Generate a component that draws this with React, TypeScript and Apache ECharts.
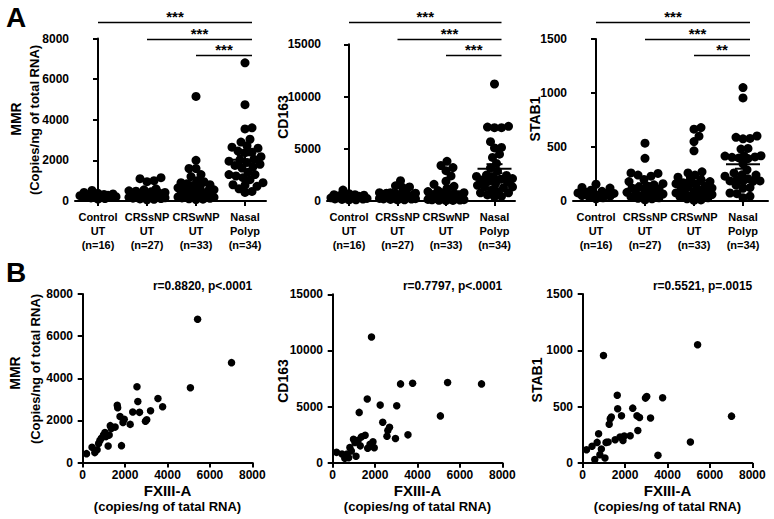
import React, { useEffect, useRef } from "react";
import * as echarts from "echarts";

// ---------------- DATA ----------------
const groupLabels = ["Control\nUT\n(n=16)", "CRSsNP\nUT\n(n=27)", "CRSwNP\nUT\n(n=33)", "Nasal\nPolyp\n(n=34)"];

// Nasal polyp samples (shared by panel A "Nasal Polyp" group and panel B correlations)
const fxiiiA = [180, 440, 570, 680, 750, 810, 880, 980, 1050, 1100, 1200, 1250, 1300, 1350, 1530, 1630, 1650, 1760, 1830, 1900, 1960, 2240, 2360, 2560, 2600, 2680, 2960, 3020, 3200, 3550, 3770, 5080, 5420, 7020];
const mmrNasalPolyp = [420, 720, 470, 600, 900, 1050, 1150, 1300, 1420, 1230, 780, 1300, 1750, 1620, 1680, 2720, 2600, 2180, 800, 1900, 2050, 1810, 2400, 3600, 2900, 2380, 1960, 2030, 2460, 3040, 2650, 3550, 6800, 4740];
const cd163NasalPolyp = [920, 780, 400, 780, 450, 1350, 1050, 2080, 1800, 580, 2000, 4480, 1500, 2300, 2450, 5680, 1280, 1650, 11200, 1870, 1340, 5130, 3600, 2350, 2860, 3150, 2150, 5080, 7020, 2480, 7080, 4170, 7150, 7020];
const stab1NasalPolyp = [118, 148, 30, 183, 260, 74, 124, 954, 44, 183, 186, 345, 393, 408, 207, 602, 481, 230, 419, 200, 240, 242, 487, 419, 289, 404, 576, 590, 399, 68, 579, 186, 1050, 416];

const mmrControl = [90, 120, 150, 170, 190, 210, 230, 250, 260, 280, 300, 320, 350, 380, 420, 520];
const mmrCRSsNP = [1150, 1100, 1000, 950, 600, 550, 500, 480, 450, 420, 400, 380, 350, 330, 300, 280, 260, 240, 220, 200, 180, 160, 140, 120, 100, 80, 60];
const mmrCRSwNP = [5150, 2000, 1600, 1600, 1300, 1200, 1000, 950, 900, 850, 800, 750, 700, 650, 600, 550, 500, 450, 420, 380, 350, 320, 300, 280, 250, 220, 200, 180, 150, 130, 110, 90, 70];

const cd163Control = [1050, 700, 600, 600, 550, 500, 450, 400, 350, 300, 250, 200, 180, 150, 120, 100];
const cd163CRSsNP = [1950, 1450, 1350, 1300, 800, 750, 700, 800, 750, 700, 650, 600, 550, 500, 450, 400, 380, 350, 300, 280, 250, 220, 200, 180, 150, 120, 100];
const cd163CRSwNP = [3800, 3400, 3200, 2900, 2400, 1900, 1600, 1400, 1200, 1000, 900, 800, 700, 650, 600, 550, 500, 450, 400, 350, 300, 280, 250, 220, 200, 180, 150, 130, 110, 90, 70, 50, 40];

const stab1Control = [155, 125, 120, 100, 90, 80, 75, 70, 65, 60, 55, 50, 45, 40, 30, 20];
const stab1CRSsNP = [535, 395, 260, 255, 240, 230, 200, 180, 160, 150, 140, 130, 120, 110, 100, 90, 80, 70, 65, 60, 50, 45, 40, 30, 25, 20, 10];
const stab1CRSwNP = [680, 665, 600, 550, 465, 270, 260, 240, 220, 200, 190, 180, 170, 160, 150, 140, 130, 120, 110, 100, 90, 80, 75, 70, 60, 55, 50, 45, 40, 30, 20, 10, 5];

const ticksMMR = [0, 2000, 4000, 6000, 8000];
const ticksCD163 = [0, 5000, 10000, 15000];
const ticksSTAB1 = [0, 500, 1000, 1500];
const ticksFXIIIA = [0, 2000, 4000, 6000, 8000];

const sigMMR = ["***", "***", "***"];
const sigCD163 = ["***", "***", "***"];
const sigSTAB1 = ["***", "***", "**"];

const rTexts = ["r=0.8820, p<.0001", "r=0.7797, p<.0001", "r=0.5521, p=.0015"];

// ---------------- LAYOUT ----------------
const FONT = '"Liberation Sans", Arial, Helvetica, sans-serif';
const A_LAYOUT = [
  { left: 75, right: 266, top: 38.5, bottom: 201, first: 98, step: 49, nameX: [16, 34], nameY: 119 },
  { left: 327, right: 515, top: 44.3, bottom: 201, first: 349, step: 48.5, nameX: [282.5], nameY: 117 },
  { left: 573, right: 768, top: 39, bottom: 201, first: 596, step: 49, nameX: [535], nameY: 119 },
];
const B_LAYOUT = [
  { left: 79, zero: 82.7, right: 252.3, top: 294, bottom: 462.5, nameX: [15, 35], nameY: 373 },
  { left: 329, zero: 332.7, right: 502.3, top: 294.3, bottom: 462.7, nameX: [282.5], nameY: 381 },
  { left: 579, zero: 582.7, right: 752.3, top: 294, bottom: 463, nameX: [537], nameY: 380 },
];
const BAR_Y = [22.5, 39.5, 55.5];

function swarm(values: number[], ppy: number, d: number, maxOff: number): number[] {
  const order = values.map((_, i) => i).sort((a, b) => values[a] - values[b]);
  const placed: { x: number; y: number }[] = [];
  const offs = new Array(values.length).fill(0);
  const cands: number[] = [0];
  for (let k = 1; k <= maxOff; k++) cands.push(k, -k);
  for (const i of order) {
    const y = values[i] * ppy;
    let best = 0;
    let bestScore = -1;
    for (const c of cands) {
      let minD = Infinity;
      for (const p of placed) {
        const dd = Math.hypot(p.x - c, p.y - y);
        if (dd < minD) minD = dd;
      }
      if (minD >= d) {
        best = c;
        break;
      }
      if (minD > bestScore) {
        bestScore = minD;
        best = c;
      }
    }
    placed.push({ x: best, y });
    offs[i] = best;
  }
  return offs;
}

function meanSem(v: number[]) {
  const n = v.length;
  const m = v.reduce((a, b) => a + b, 0) / n;
  const sd = Math.sqrt(v.reduce((a, b) => a + (b - m) * (b - m), 0) / (n - 1));
  return [m, sd / Math.sqrt(n)];
}

function buildOption() {
  const genes = [
    { name: "MMR", sub: "(Copies/ng of total RNA)", ticks: ticksMMR, sig: sigMMR, groups: [mmrControl, mmrCRSsNP, mmrCRSwNP, mmrNasalPolyp] },
    { name: "CD163", sub: "", ticks: ticksCD163, sig: sigCD163, groups: [cd163Control, cd163CRSsNP, cd163CRSwNP, cd163NasalPolyp] },
    { name: "STAB1", sub: "", ticks: ticksSTAB1, sig: sigSTAB1, groups: [stab1Control, stab1CRSsNP, stab1CRSwNP, stab1NasalPolyp] },
  ];
  const grid: any[] = [];
  const xAxis: any[] = [];
  const yAxis: any[] = [];
  const series: any[] = [];
  const graphic: any[] = [];

  const axisLineStyle = { color: "#000", width: 2 };
  const labelBase = { color: "#000", fontWeight: "bold", fontFamily: FONT, fontSize: 12 };

  const yAxisFor = (g: any, idx: number) => ({
    type: "value",
    gridIndex: idx,
    min: g.ticks[0],
    max: g.ticks[g.ticks.length - 1],
    interval: g.ticks[1] - g.ticks[0],
    axisLine: { show: true, lineStyle: axisLineStyle },
    axisTick: { show: true, length: 5, lineStyle: { color: "#000", width: 2 } },
    axisLabel: { ...labelBase, margin: 6, formatter: (v: number) => String(v) },
    splitLine: { show: false },
  });

  // ---- Panel A ----
  genes.forEach((g, p) => {
    const L = A_LAYOUT[p];
    const idx = p;
    grid.push({ left: L.left, top: L.top, width: L.right - L.left, height: L.bottom - L.top, containLabel: false });
    const xMin = -(L.first - L.left) / L.step;
    const xMax = xMin + (L.right - L.left) / L.step;
    const cats = groupLabels.map((_, i) => i);
    xAxis.push({
      type: "value",
      gridIndex: idx,
      min: xMin,
      max: xMax,
      axisLine: { show: true, onZero: false, lineStyle: axisLineStyle },
      axisTick: { show: true, length: 5, customValues: cats, lineStyle: { color: "#000", width: 2 } },
      axisLabel: {
        ...labelBase,
        fontSize: 11,
        lineHeight: 14,
        margin: 9,
        customValues: cats,
        formatter: (v: number) => groupLabels[Math.round(v)] ?? "",
      },
      splitLine: { show: false },
    });
    yAxis.push(yAxisFor(g, idx));
    const ymax = g.ticks[g.ticks.length - 1];
    const ppy = (L.bottom - L.top) / ymax;
    const pts: number[][] = [];
    g.groups.forEach((vals, gi) => {
      const offs = swarm(vals, ppy, 7, 18);
      vals.forEach((v, i) => pts.push([gi + offs[i] / L.step, v]));
    });
    series.push({
      type: "scatter",
      xAxisIndex: idx,
      yAxisIndex: idx,
      data: pts,
      symbol: "circle",
      symbolSize: 9,
      itemStyle: { color: "#000", opacity: 1 },
      silent: true,
    });
    const stats = g.groups.map((vals, gi) => {
      const [m, s] = meanSem(vals);
      return [gi, m, s];
    });
    series.push({
      type: "custom",
      xAxisIndex: idx,
      yAxisIndex: idx,
      encode: { x: 0, y: 1 },
      data: stats,
      z: 5,
      silent: true,
      renderItem: (params: any, api: any) => {
        const x = api.value(0);
        const m = api.value(1);
        const s = api.value(2);
        const c = api.coord([x, m]);
        const t = api.coord([x, m + s]);
        const b = api.coord([x, Math.max(0, m - s)]);
        const st = { stroke: "#000", lineWidth: 2 };
        return {
          type: "group",
          children: [
            { type: "line", shape: { x1: c[0] - 17, y1: c[1], x2: c[0] + 17, y2: c[1] }, style: st },
            { type: "line", shape: { x1: c[0], y1: t[1], x2: c[0], y2: b[1] }, style: st },
            { type: "line", shape: { x1: c[0] - 8, y1: t[1], x2: c[0] + 8, y2: t[1] }, style: st },
            { type: "line", shape: { x1: c[0] - 8, y1: b[1], x2: c[0] + 8, y2: b[1] }, style: st },
          ],
        };
      },
    });
    // significance bars
    const xEnd = L.first + 3 * L.step + 7;
    g.sig.forEach((s, k) => {
      const x1 = L.first + k * L.step;
      const y = BAR_Y[k];
      graphic.push({ type: "line", shape: { x1, y1: y, x2: xEnd, y2: y }, style: { stroke: "#000", lineWidth: 1.6 } });
      graphic.push({
        type: "text",
        x: (x1 + xEnd) / 2,
        y: y + 1.5,
        style: { text: s, font: `bold 15px ${FONT}`, fill: "#000", align: "center", verticalAlign: "bottom" },
      });
    });
    // y name
    graphic.push({
      type: "text",
      x: L.nameX[0],
      y: L.nameY,
      rotation: Math.PI / 2,
      style: { text: g.name, font: `bold 14px ${FONT}`, fill: "#000", align: "center", verticalAlign: "middle" },
    });
    if (g.sub) {
      graphic.push({
        type: "text",
        x: L.nameX[1],
        y: L.nameY + 1,
        rotation: Math.PI / 2,
        style: { text: g.sub, font: `bold 13px ${FONT}`, fill: "#000", align: "center", verticalAlign: "middle" },
      });
    }
  });

  // ---- Panel B ----
  const bY = [mmrNasalPolyp, cd163NasalPolyp, stab1NasalPolyp];
  genes.forEach((g, p) => {
    const L = B_LAYOUT[p];
    const idx = 3 + p;
    grid.push({ left: L.left, top: L.top, width: L.right - L.left, height: L.bottom - L.top, containLabel: false });
    const xMaxV = ticksFXIIIA[ticksFXIIIA.length - 1];
    const ppu = (L.right - L.zero) / xMaxV;
    const xMin = -(L.zero - L.left) / ppu;
    xAxis.push({
      type: "value",
      gridIndex: idx,
      min: xMin,
      max: xMaxV,
      axisLine: { show: true, onZero: false, lineStyle: axisLineStyle },
      axisTick: { show: true, length: 5, customValues: ticksFXIIIA, lineStyle: { color: "#000", width: 2 } },
      axisLabel: { ...labelBase, margin: 6, customValues: ticksFXIIIA, formatter: (v: number) => String(v) },
      splitLine: { show: false },
    });
    yAxis.push(yAxisFor(g, idx));
    series.push({
      type: "scatter",
      xAxisIndex: idx,
      yAxisIndex: idx,
      data: fxiiiA.map((x, i) => [x, bY[p][i]]),
      symbol: "circle",
      symbolSize: 7.5,
      itemStyle: { color: "#000", opacity: 1 },
      silent: true,
    });
    graphic.push({
      type: "text",
      x: L.right,
      y: 286,
      style: { text: rTexts[p], font: `bold 12px ${FONT}`, fill: "#000", align: "right", verticalAlign: "middle" },
    });
    const cx = (L.zero + L.right) / 2;
    graphic.push({
      type: "text",
      x: cx,
      y: 490,
      style: { text: "FXIII-A", font: `bold 15px ${FONT}`, fill: "#000", align: "center", verticalAlign: "middle" },
    });
    graphic.push({
      type: "text",
      x: cx,
      y: 506,
      style: { text: "(copies/ng of tatal RNA)", font: `bold 13px ${FONT}`, fill: "#000", align: "center", verticalAlign: "middle" },
    });
    graphic.push({
      type: "text",
      x: L.nameX[0],
      y: L.nameY,
      rotation: Math.PI / 2,
      style: { text: g.name, font: `bold 14px ${FONT}`, fill: "#000", align: "center", verticalAlign: "middle" },
    });
    if (g.sub) {
      graphic.push({
        type: "text",
        x: L.nameX[1],
        y: L.nameY - 4,
        rotation: Math.PI / 2,
        style: { text: g.sub, font: `bold 13px ${FONT}`, fill: "#000", align: "center", verticalAlign: "middle" },
      });
    }
  });

  graphic.push({ type: "text", x: 6, y: 17, style: { text: "A", font: `bold 28px ${FONT}`, fill: "#000", align: "left", verticalAlign: "middle" } });
  graphic.push({ type: "text", x: 6, y: 272, style: { text: "B", font: `bold 28px ${FONT}`, fill: "#000", align: "left", verticalAlign: "middle" } });

  return {
    animation: false,
    backgroundColor: "#fff",
    grid,
    xAxis,
    yAxis,
    series,
    graphic,
  };
}

export default function App() {
  const ref = useRef<HTMLDivElement>(null);
  useEffect(() => {
    document.body.style.margin = "0";
    const chart = echarts.init(ref.current!, null, { renderer: "svg", width: 774, height: 519 });
    chart.setOption(buildOption() as any);
    return () => chart.dispose();
  }, []);
  return <div ref={ref} style={{ width: 774, height: 519, background: "#fff" }} />;
}
